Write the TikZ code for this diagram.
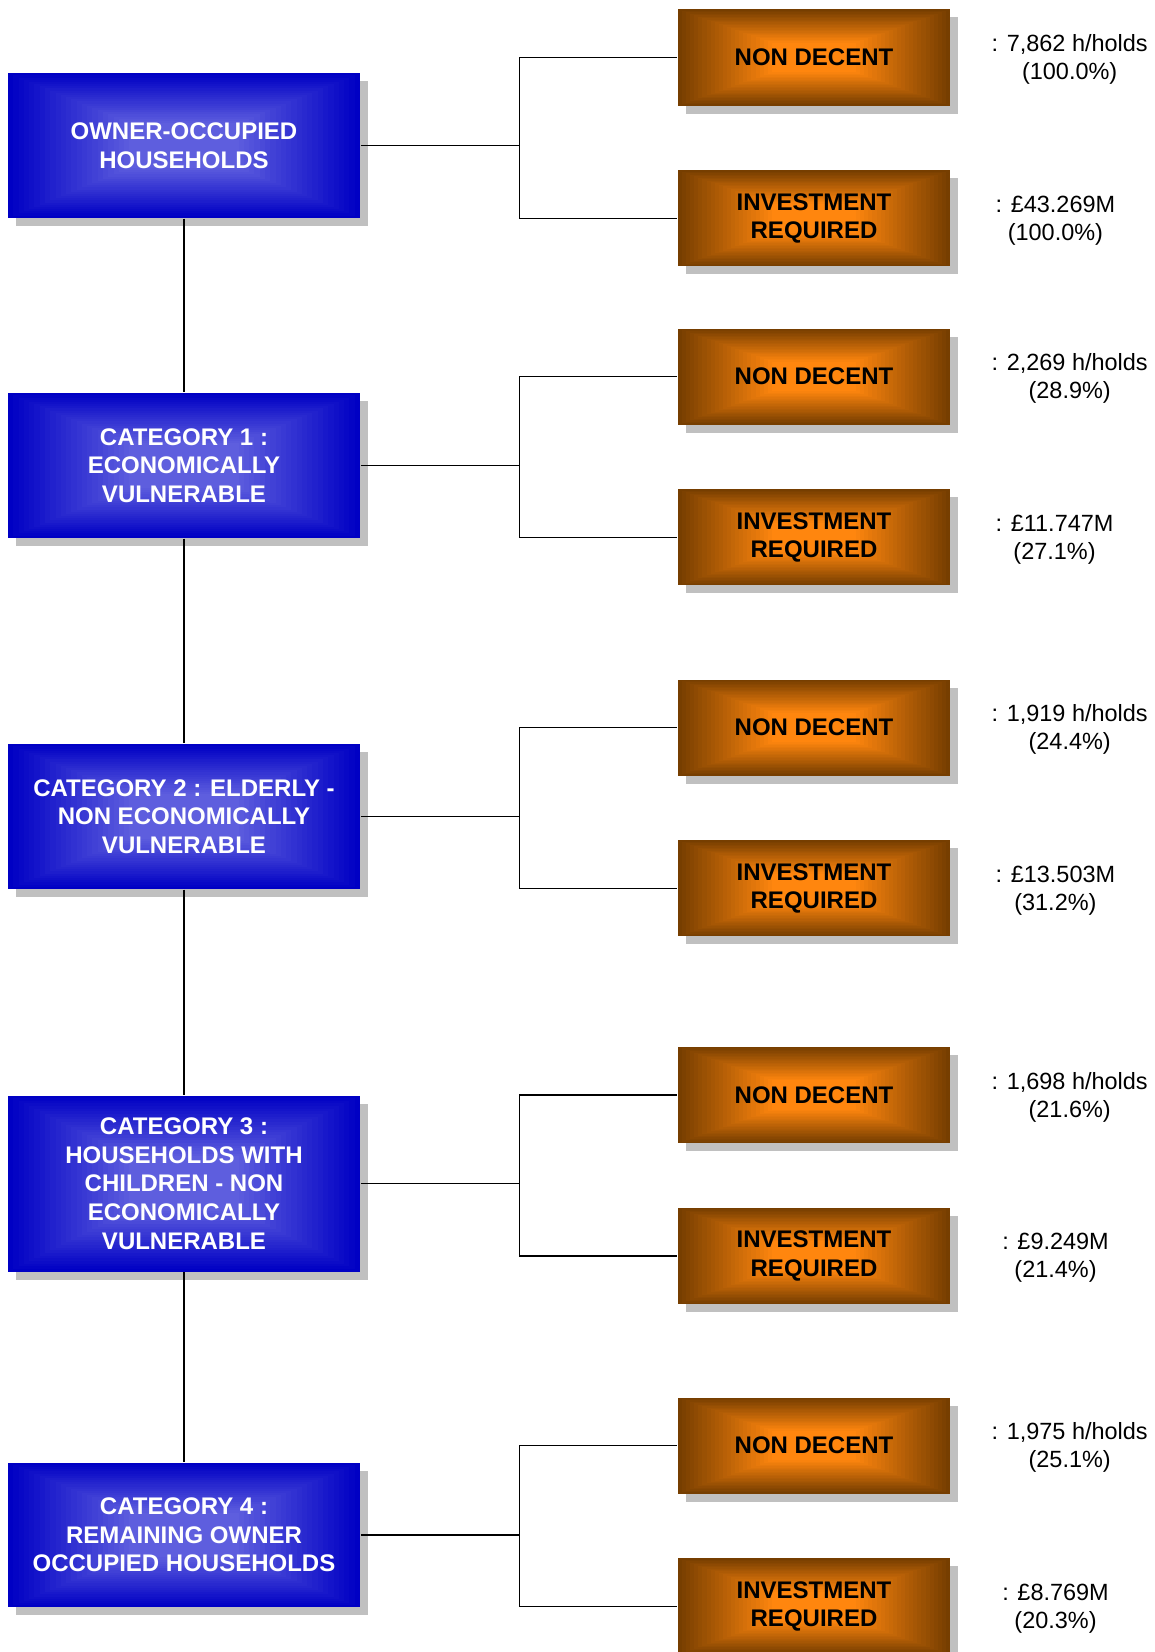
\documentclass[tikz,border=0pt]{standalone}
\usepackage{fontspec}
\setmainfont{Liberation Sans}
\usetikzlibrary{positioning,calc,shadows}

\definecolor{catout}{RGB}{0,0,196}
\definecolor{catin}{RGB}{94,94,222}
\definecolor{resout}{RGB}{118,62,0}
\definecolor{resin}{RGB}{255,134,14}
\definecolor{shadowgray}{RGB}{192,192,192}

\tikzset{
  boxgrad/.style 2 args={path picture={
    \foreach \k in {0,...,23}{
      \pgfmathsetmacro\mix{100*\k/23}
      \fill[#1!\mix!#2]
        ($(path picture bounding box.south west)!{0.015*\k}!(path picture bounding box.north east)$)
        rectangle
        ($(path picture bounding box.north east)!{0.015*\k}!(path picture bounding box.south west)$);
    }}},
}

\begin{document}
\begin{tikzpicture}[x=0.75pt, y=-0.75pt, line width=1.2pt,
  catbox/.style={minimum width=264pt, minimum height=108.5pt, align=center, inner sep=0pt,
    text=white, font=\bfseries\fontsize{18}{21.5}\selectfont,
    drop shadow={shadow xshift=6pt, shadow yshift=-6pt, fill=shadowgray, opacity=1},
    boxgrad={catin}{catout}},
  resbox/.style={minimum width=204pt, minimum height=72pt, align=center, inner sep=0pt,
    text=black, font=\bfseries\fontsize{18}{21.5}\selectfont,
    drop shadow={shadow xshift=6pt, shadow yshift=-6pt, fill=shadowgray, opacity=1},
    boxgrad={resin}{resout}},
  figtext/.style={anchor=west, inner sep=0pt, align=center, yshift=-1.5pt,
    font=\fontsize{17.6}{21}\selectfont}]
  \useasboundingbox (0,0) rectangle (1155,1652);
  % categories
  \node[catbox] (cat0) at (184,145.5) {OWNER-OCCUPIED\\HOUSEHOLDS};
  \node[catbox] (cat1) at (184,465.5) {CATEGORY 1 :\\ECONOMICALLY\\VULNERABLE};
  \node[catbox] (cat2) at (184,816.5) {CATEGORY 2 : ELDERLY -\\NON ECONOMICALLY\\VULNERABLE};
  \node[catbox, minimum height=132pt] (cat3) at (184,1183.5) {CATEGORY 3 :\\HOUSEHOLDS WITH\\CHILDREN - NON\\ECONOMICALLY\\VULNERABLE};
  \node[catbox] (cat4) at (184,1535) {CATEGORY 4 :\\REMAINING OWNER\\OCCUPIED HOUSEHOLDS};
  % results
  \node[resbox] (nd0) at (814,57.5) {NON DECENT};
  \node[resbox, below=47.5pt of nd0] (iv0) {INVESTMENT\\REQUIRED};
  \node[resbox] (nd1) at (814,376.5) {NON DECENT};
  \node[resbox, below=47.5pt of nd1] (iv1) {INVESTMENT\\REQUIRED};
  \node[resbox] (nd2) at (814,727.5) {NON DECENT};
  \node[resbox, below=47.5pt of nd2] (iv2) {INVESTMENT\\REQUIRED};
  \node[resbox] (nd3) at (814,1095) {NON DECENT};
  \node[resbox, below=47.5pt of nd3] (iv3) {INVESTMENT\\REQUIRED};
  \node[resbox] (nd4) at (814,1445.5) {NON DECENT};
  \node[resbox, below=47.5pt of nd4] (iv4) {INVESTMENT\\REQUIRED};
  % figures
  \node[figtext, right=30pt of nd0] (fn0) {: 7,862 h/holds\\(100.0\%)};
  \node[figtext, right=33pt of iv0] (fi0) {: £43.269M\\(100.0\%)};
  \node[figtext, right=30pt of nd1] (fn1) {: 2,269 h/holds\\(28.9\%)};
  \node[figtext, right=33pt of iv1] (fi1) {: £11.747M\\(27.1\%)};
  \node[figtext, right=30pt of nd2] (fn2) {: 1,919 h/holds\\(24.4\%)};
  \node[figtext, right=33pt of iv2] (fi2) {: £13.503M\\(31.2\%)};
  \node[figtext, right=30pt of nd3] (fn3) {: 1,698 h/holds\\(21.6\%)};
  \node[figtext, right=38pt of iv3] (fi3) {: £9.249M\\(21.4\%)};
  \node[figtext, right=30pt of nd4] (fn4) {: 1,975 h/holds\\(25.1\%)};
  \node[figtext, right=38pt of iv4] (fi4) {: £8.769M\\(20.3\%)};
  % trunk and branches
  \foreach \a/\b in {0/1,1/2,2/3,3/4}
    \draw (cat\a.south) -- (cat\b.north);
  \foreach \i in {0,...,4}{
    \coordinate (j\i) at ([xshift=118.9pt]cat\i.east);
    \draw (cat\i.east) -- (j\i);
    \draw (nd\i.west) -| (j\i) |- (iv\i.west);
  }
\end{tikzpicture}
\end{document}
